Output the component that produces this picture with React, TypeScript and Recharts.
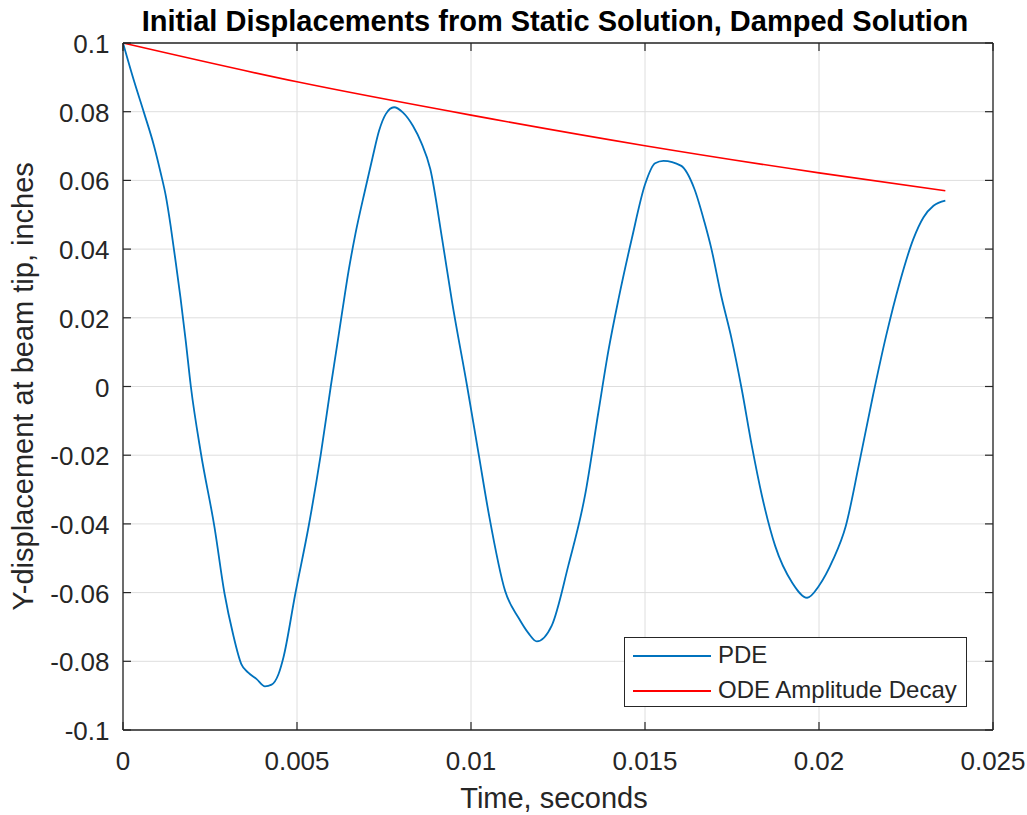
import React from "react";
import {
  CartesianGrid,
  Line,
  LineChart,
  XAxis,
  YAxis,
} from "recharts";

// PDE tip displacement (time in s, displacement in inches)
const pdeTime = [
  0, 0.0003, 0.0006, 0.00089, 0.00108, 0.00123, 0.00137, 0.00149, 0.00165,
  0.0018, 0.00195, 0.00224, 0.00263, 0.00292, 0.00316, 0.0034, 0.0036,
  0.00384, 0.00408, 0.00427, 0.00447, 0.00461, 0.00495, 0.00534, 0.00568,
  0.00597, 0.00615, 0.00631, 0.00648, 0.00668, 0.00697, 0.00717, 0.00736,
  0.00755, 0.00779, 0.00804, 0.00833, 0.00857, 0.00883, 0.00917, 0.00945,
  0.00989, 0.01022, 0.01051, 0.01098, 0.01137, 0.01165, 0.01189, 0.01232,
  0.0128, 0.01328, 0.01366, 0.01395, 0.01424, 0.01462, 0.015, 0.01529,
  0.01553, 0.01603, 0.01642, 0.01671, 0.01691, 0.01719, 0.01749, 0.01778,
  0.01807, 0.01836, 0.01874, 0.01923, 0.01966, 0.02, 0.0204, 0.02077,
  0.02116, 0.02155, 0.02193, 0.02232, 0.02271, 0.023, 0.02329, 0.02363,
];
const pdeDisp = [
  0.1, 0.0895, 0.0798, 0.0701, 0.0623, 0.0555, 0.0467, 0.038, 0.026, 0.0135,
  0, -0.0195, -0.041, -0.0604, -0.072, -0.0808, -0.0833, -0.0852, -0.0873,
  -0.0868, -0.0837, -0.0789, -0.0604, -0.0404, -0.02, 0, 0.0118, 0.0225,
  0.0335, 0.0445, 0.0578, 0.0666, 0.0745, 0.0793, 0.0813, 0.0798, 0.0759,
  0.071, 0.0633, 0.043, 0.025, 0, -0.0197, -0.037, -0.0595, -0.0674,
  -0.0718, -0.0742, -0.0696, -0.052, -0.0315, -0.0075, 0.0105, 0.0255, 0.043,
  0.0588, 0.065, 0.0657, 0.0643, 0.0575, 0.0478, 0.04, 0.0264, 0.0138,
  -0.0008, -0.0173, -0.0318, -0.0464, -0.0571, -0.0615, -0.058, -0.0505,
  -0.0406, -0.0221, -0.0027, 0.0148, 0.0303, 0.0429, 0.0492, 0.0526, 0.0541,
];

// ODE amplitude decay envelope
const odeTime = [0, 0.005, 0.01, 0.015, 0.02, 0.02363];
const odeDisp = [0.1, 0.0887, 0.079, 0.0701, 0.0622, 0.057];

const xTicks = [0, 0.005, 0.01, 0.015, 0.02, 0.025];
const yTicks = [-0.1, -0.08, -0.06, -0.04, -0.02, 0, 0.02, 0.04, 0.06, 0.08, 0.1];

const pdeData = pdeTime.map((t, i) => ({ t, v: pdeDisp[i] }));
const odeData = odeTime.map((t, i) => ({ t, v: odeDisp[i] }));

const FONT = '"Liberation Sans", Arial, Helvetica, sans-serif';
const AXIS = "#262626";
const BLUE = "#0072BD";
const RED = "#FF0000";
const TICK_LEN = 8;

// MATLAB-style ticks: short marks pointing into the plot box
const BottomTick = (props: any) => {
  const { x, y, payload } = props;
  return (
    <g>
      <line x1={x} y1={y} x2={x} y2={y - TICK_LEN} stroke={AXIS} strokeWidth={1.2} />
      <text x={x} y={y + 40} textAnchor="middle" fontSize={26} fontFamily={FONT} fill={AXIS}>
        {String(payload.value)}
      </text>
    </g>
  );
};

const TopTick = (props: any) => {
  const { x, y } = props;
  return <line x1={x} y1={y} x2={x} y2={y + TICK_LEN} stroke={AXIS} strokeWidth={1.2} />;
};

const LeftTick = (props: any) => {
  const { x, y, payload } = props;
  return (
    <g>
      <line x1={x} y1={y} x2={x + TICK_LEN} y2={y} stroke={AXIS} strokeWidth={1.2} />
      <text x={x - 13.5} y={y + 10} textAnchor="end" fontSize={26} fontFamily={FONT} fill={AXIS}>
        {String(payload.value)}
      </text>
    </g>
  );
};

const RightTick = (props: any) => {
  const { x, y } = props;
  return <line x1={x} y1={y} x2={x - TICK_LEN} y2={y} stroke={AXIS} strokeWidth={1.2} />;
};

const titleLabel = (props: any) => {
  const { x, y, width } = props.viewBox;
  return (
    <text
      x={x + width / 2 - 3}
      y={y + 30.5}
      textAnchor="middle"
      fontSize={29}
      fontWeight="bold"
      fontFamily={FONT}
      fill="#000"
    >
      Initial Displacements from Static Solution, Damped Solution
    </text>
  );
};

const xLabel = (props: any) => {
  const { x, y, width } = props.viewBox;
  return (
    <text
      x={x + width / 2 - 4}
      y={y + 78}
      textAnchor="middle"
      fontSize={29}
      fontFamily={FONT}
      fill={AXIS}
    >
      Time, seconds
    </text>
  );
};

const yLabel = (props: any) => {
  const { x, y, height } = props.viewBox;
  const cx = x + 33;
  const cy = y + height / 2;
  return (
    <text
      x={cx}
      y={cy}
      transform={`rotate(-90 ${cx} ${cy})`}
      textAnchor="middle"
      fontSize={29}
      fontFamily={FONT}
      fill={AXIS}
    >
      Y-displacement at beam tip, inches
    </text>
  );
};

function LegendBox() {
  const row = (color: string, label: string, top: number) => (
    <div style={{ position: "absolute", left: 0, top, height: 0 }}>
      <div
        style={{
          position: "absolute",
          left: 8,
          top: -1,
          width: 78,
          height: 2,
          background: color,
        }}
      />
      <span
        style={{
          position: "absolute",
          left: 93,
          top: -15,
          fontSize: 24,
          lineHeight: "28px",
          whiteSpace: "nowrap",
          color: AXIS,
          fontFamily: FONT,
        }}
      >
        {label}
      </span>
    </div>
  );
  return (
    <div
      style={{
        position: "absolute",
        left: 624,
        top: 637,
        width: 343,
        height: 70,
        boxSizing: "border-box",
        border: `1.5px solid ${AXIS}`,
        background: "#fff",
      }}
    >
      {row(BLUE, "PDE", 18)}
      {row(RED, "ODE Amplitude Decay", 53)}
    </div>
  );
}

export default function App() {
  return (
    <div
      style={{
        position: "absolute",
        left: 0,
        top: 0,
        width: 1027,
        height: 815,
        overflow: "hidden",
      }}
    >
      <LineChart
        width={1027}
        height={815}
        margin={{ top: 0, right: 0, bottom: 0, left: 0 }}
      >
        <CartesianGrid stroke="#dedede" strokeWidth={1} />
        <XAxis
          dataKey="t"
          type="number"
          domain={[0, 0.025]}
          ticks={xTicks}
          height={85}
          tickSize={0}
          tickMargin={0}
          tickLine={false}
          tick={<BottomTick />}
          axisLine={{ stroke: AXIS, strokeWidth: 1.3 }}
          allowDataOverflow
          interval={0}
          label={{ content: xLabel }}
        />
        <XAxis
          xAxisId="top"
          orientation="top"
          dataKey="t"
          type="number"
          domain={[0, 0.025]}
          ticks={xTicks}
          height={43}
          tickSize={0}
          tickMargin={0}
          tickLine={false}
          tick={<TopTick />}
          axisLine={{ stroke: AXIS, strokeWidth: 1.3 }}
          allowDataOverflow
          interval={0}
          label={{ content: titleLabel }}
        />
        <YAxis
          type="number"
          domain={[-0.1, 0.1]}
          ticks={yTicks}
          width={123}
          tickSize={0}
          tickMargin={0}
          tickLine={false}
          tick={<LeftTick />}
          axisLine={{ stroke: AXIS, strokeWidth: 1.3 }}
          allowDataOverflow
          interval={0}
          label={{ content: yLabel }}
        />
        <YAxis
          yAxisId="right"
          orientation="right"
          type="number"
          domain={[-0.1, 0.1]}
          ticks={yTicks}
          width={34}
          tickSize={0}
          tickMargin={0}
          tickLine={false}
          tick={<RightTick />}
          axisLine={{ stroke: AXIS, strokeWidth: 1.3 }}
          allowDataOverflow
          interval={0}
        />
        <Line
          data={pdeData}
          dataKey="v"
          type="monotone"
          stroke={BLUE}
          strokeWidth={1.8}
          dot={false}
          isAnimationActive={false}
        />
        <Line
          data={odeData}
          dataKey="v"
          type="monotone"
          stroke={RED}
          strokeWidth={1.6}
          dot={false}
          isAnimationActive={false}
        />
      </LineChart>
      <LegendBox />
    </div>
  );
}
